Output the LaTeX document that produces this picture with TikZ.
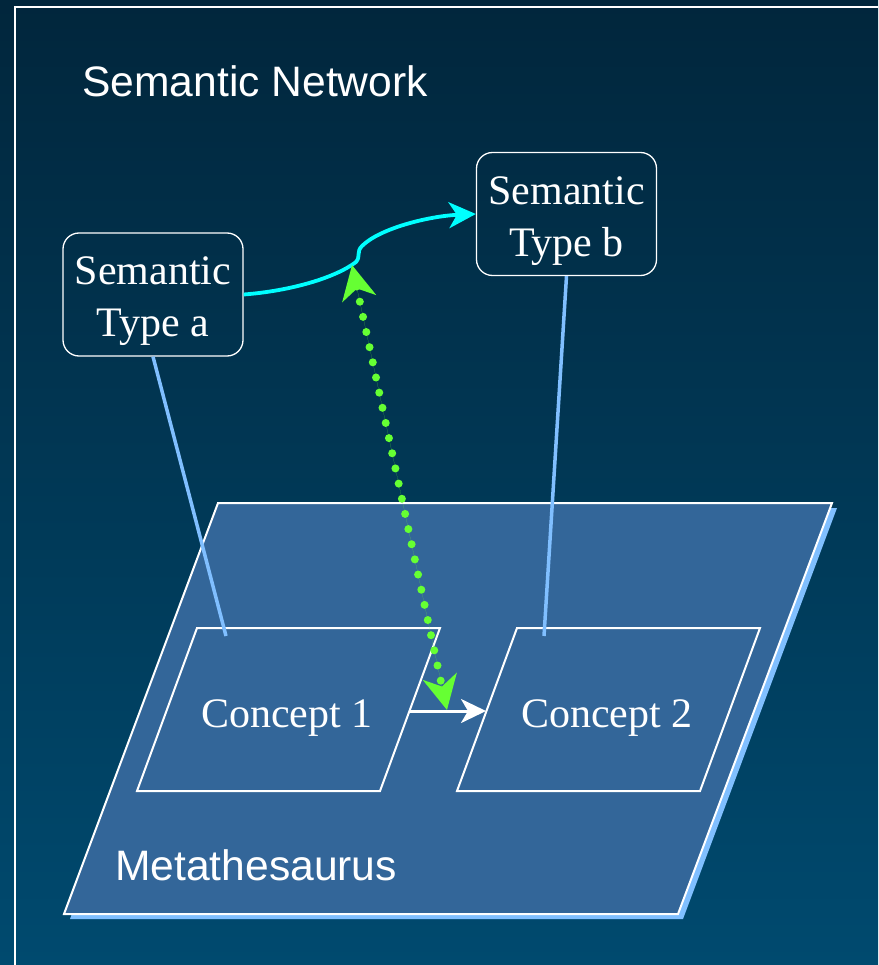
\documentclass[tikz,border=0pt]{standalone}
\usepackage{fontspec}
\setmainfont{Liberation Serif}
\newfontfamily\arialf{Liberation Sans}
\usetikzlibrary{arrows.meta}
\definecolor{bgtop}{HTML}{01263C}
\definecolor{bgbot}{HTML}{004A6F}
\definecolor{plate}{HTML}{336699}
\definecolor{lblue}{HTML}{80BFFF}
\definecolor{cyanc}{HTML}{00FFFF}
\definecolor{lime}{HTML}{66FF33}
\begin{document}
\begin{tikzpicture}[x=1pt,y=-1pt,
  stbox/.style={draw=white, line width=1.3pt, rounded corners=16pt,
    minimum width=180pt, minimum height=123pt, text=white, align=center,
    font=\fontsize{42}{52}\selectfont, inner sep=0pt},
  ctext/.style={anchor=base, text=white, font=\fontsize{42}{50}\selectfont, inner sep=0pt},
  stext/.style={anchor=base west, text=white, font=\arialf\fontsize{42.6}{50}\selectfont, inner sep=0pt},
  conc/.style={draw=white, line width=2pt, fill=plate, line join=miter},
  lbline/.style={draw=lblue, line width=3.5pt},
  cyarr/.style={draw=cyanc, line width=3.8pt, -{Stealth[length=27pt,width=26pt,inset=8pt]}},
  warr/.style={draw=white, line width=3pt, -{Stealth[length=25pt,width=24pt,inset=7pt]}},
  garr/.style={draw=lime, fill=lime, line width=8pt, line cap=round, dash pattern=on 0pt off 15.5pt,
    {Stealth[length=34pt,width=34pt,inset=10pt]}-{Stealth[length=34pt,width=34pt,inset=10pt]}}
]
\useasboundingbox (0,0) rectangle (878,965);
\shade[top color=bgtop, bottom color=bgbot] (0,0) rectangle (878,965);
\draw[white, line width=1.5pt] (15,965) -- (15,7) -- (878,7);

\node[stext] (title) at (82,97) {Semantic Network};

% Metathesaurus plate
\fill[lblue] (223,508) -- (837,508) -- (683,919) -- (70,919) -- cycle;
\draw[conc] (218,503) -- (832,503) -- (678,914) -- (64,914) -- cycle;
\node[stext] (meta) at (115,880) {Metathesaurus};

% Concepts
\draw[conc] (197,628) -- (440,628) -- (380,791) -- (137,791) -- cycle;
\draw[conc] (517,628) -- (760,628) -- (700,791) -- (457,791) -- cycle;
\node[ctext] (c1) at (287,727) {Concept 1};
\node[ctext] (c2) at (607,727) {Concept 2};

% Semantic types
\node[stbox] (ta) at (153,294.5) {\rule{0pt}{42pt}Semantic\\Type a};
\node[stbox] (tb) at (566.5,214) {\rule{0pt}{42pt}Semantic\\Type b};

% links to concepts
\coordinate (c1a) at (226,636);
\coordinate (c2a) at (544,636);
\draw[lbline] (ta.south) -- (c1a);
\draw[lbline] (tb.south) -- (c2a);

% relation between semantic types
\draw[cyarr] (ta.east) .. controls (290,291) and (335,278) .. (356,262)
  .. controls (361,256) and (356,252) .. (362,246)
  .. controls (380,228) and (430,216) .. (tb.west);

% relation between concepts
\coordinate (c1r) at (409,711);
\coordinate (c2l) at (486,711);
\draw[warr] (c1r) -- (c2l);

% green dotted link
\coordinate (g1) at (352,265);
\coordinate (g2) at (447,710);
\draw[garr] (g1) -- (g2);
\end{tikzpicture}
\end{document}
